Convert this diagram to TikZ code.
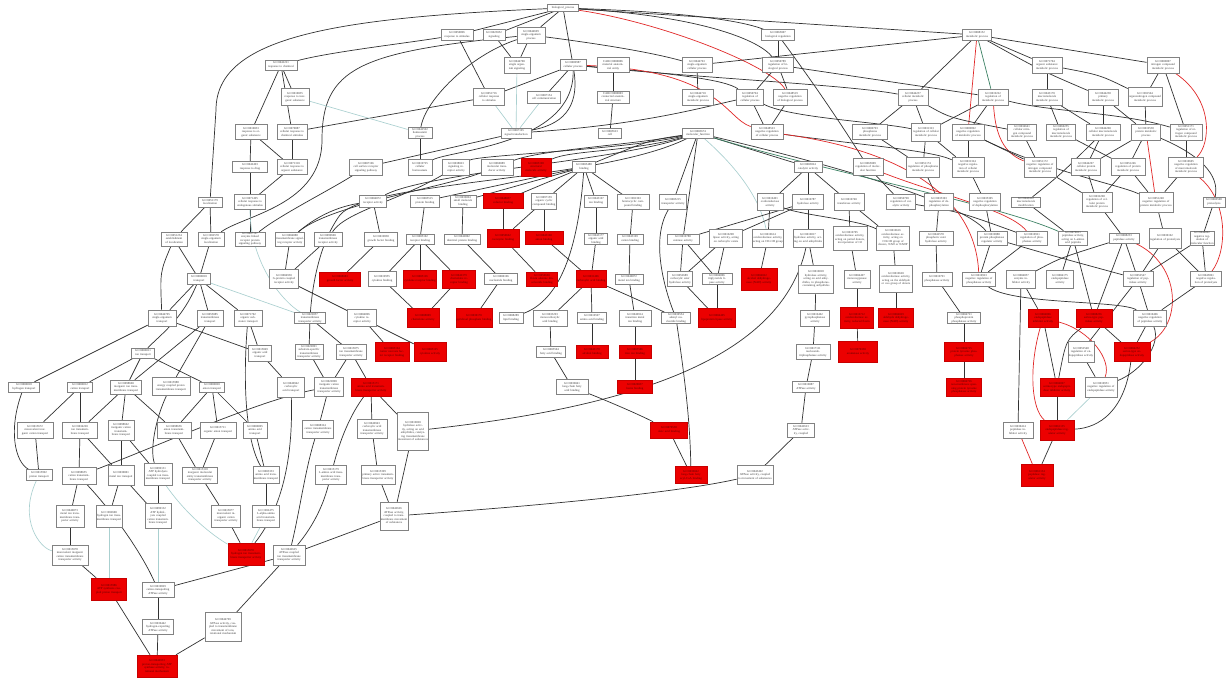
\documentclass[tikz,border=0pt]{standalone}
\usepackage{fontspec}
\setmainfont{Liberation Serif}
\pgfdeclarelayer{bg}
\pgfsetlayers{bg,main}
\tikzset{
 gb/.style={draw={rgb,255:red,130;green,130;blue,130}, fill=white, line width=0.45pt, inner xsep=0.6pt, inner ysep=0.5pt, align=center, font=\fontsize{3}{3.5}\selectfont, text={rgb,255:red,60;green,60;blue,60}},
 rb/.style={gb, fill={rgb,255:red,236;green,0;blue,0}, draw={rgb,255:red,200;green,0;blue,0}, text={rgb,255:red,90;green,0;blue,0}},
 ed/.style={draw={rgb,255:red,50;green,50;blue,50}, line width=0.7pt},
 te/.style={draw={rgb,255:red,170;green,208;blue,208}, line width=0.65pt},
 re/.style={draw={rgb,255:red,225;green,40;blue,40}, line width=0.7pt},
 ge/.style={draw={rgb,255:red,60;green,130;blue,100}, line width=0.7pt},
}
\newcommand{\GNd}[5]{\node[gb,text width=#3pt,minimum height=#4pt] (n#1x#2) at (#1,#2) {#5};}
\newcommand{\RNd}[5]{\node[rb,text width=#3pt,minimum height=#4pt] (n#1x#2) at (#1,#2) {#5};}
\newcommand{\EDg}[3][ed]{\draw[#1] (n#2) -- (n#3);}
\begin{document}
\begin{tikzpicture}[x=1pt,y=-1pt]
\useasboundingbox (0,0) rectangle (1229,679);
% row 8-35
\GNd{563}{8}{30}{7}{biological\_process}
\GNd{457}{35}{31}{11}{GO:0050896\\response to stimulus}
\GNd{494}{35}{21}{11}{GO:0023052\\signaling}
\GNd{531}{35}{27}{16}{GO:0044699\\single-organism process}
\GNd{778}{35}{32}{11}{GO:0065007\\biological regulation}
\GNd{977}{35}{28}{11}{GO:0008152\\metabolic process}
% row 65
\GNd{281}{65}{31}{10}{GO:0042221\\response to chemical}
\GNd{517}{65}{25}{16}{GO:0044700\\single organism signaling}
\GNd{573}{65}{25}{11}{GO:0009987\\cellular process}
\GNd{613}{65}{31}{15}{CARO:0000006\\material anatomical entity}
\GNd{697}{65}{29}{15}{GO:0044763\\single-organism cellular process}
\GNd{778}{65}{30}{15}{GO:0050789\\regulation of biological process}
\GNd{1047}{65}{29}{16}{GO:0071704\\organic substance metabolic process}
\GNd{1163}{65}{31}{16}{GO:0006807\\nitrogen compound metabolic process}
% row 97
\GNd{295}{97}{27}{17}{GO:0010035\\response to inorganic substance}
\GNd{489}{97}{30}{17}{GO:0051716\\cellular response to stimulus}
\GNd{544}{97}{32}{12}{GO:0007154\\cell communication}
\GNd{613}{97}{31}{12}{CARO:0000003\\connected anatomical structure}
\GNd{698}{97}{30}{16}{GO:0044710\\single-organism metabolic process}
\GNd{750}{97}{26}{16}{GO:0050794\\regulation of cellular process}
\GNd{790}{97}{33}{16}{GO:0048519\\negative regulation of biological process}
\GNd{913}{97}{29}{16}{GO:0044237\\cellular metabolic process}
\GNd{993}{97}{29}{16}{GO:0019222\\regulation of metabolic process}
\GNd{1047}{97}{29}{16}{GO:0043170\\macromolecule metabolic process}
\GNd{1103}{97}{29}{16}{GO:0044238\\primary metabolic process}
\GNd{1145}{97}{33}{19}{GO:1901564\\organonitrogen compound metabolic process}
% row 132
\GNd{251}{132}{31}{15}{GO:0010033\\response to organic substance}
\GNd{292}{132}{29}{15}{GO:0070887\\cellular response to chemical stimulus}
\GNd{420}{133}{23}{10}{GO:0042592\\homeostatic process}
\GNd{516}{133}{29}{10}{GO:0007165\\signal transduction}
\GNd{610}{133}{22}{10}{GO:0005623\\cell}
\GNd{698}{133}{30}{10}{GO:0003674\\molecular\_function}
\GNd{767}{132}{31}{15}{GO:0048523\\negative regulation of cellular process}
\GNd{870}{132}{34}{15}{GO:0006793\\phosphorus metabolic process}
\GNd{926}{132}{28}{18}{GO:0031323\\regulation of cellular metabolic process}
\GNd{968}{132}{31}{16}{GO:0009892\\negative regulation of metabolic process}
\GNd{1022}{132}{28}{16}{GO:0034641\\cellular nitrogen compound metabolic process}
\GNd{1061}{132}{28}{16}{GO:0060255\\regulation of macromolecule metabolic process}
\GNd{1103}{132}{33}{16}{GO:0044260\\cellular macromolecule metabolic process}
\GNd{1146}{132}{28}{16}{GO:0019538\\protein metabolic process}
\GNd{1186}{132}{31}{16}{GO:0051171\\regulation of nitrogen compound metabolic process}
% row 167
\GNd{250}{167}{34}{11}{GO:0042493\\response to drug}
\GNd{292}{167}{29}{15}{GO:0071310\\cellular response to organic substance}
\GNd{366}{167}{32}{16}{GO:0007166\\cell surface receptor signaling pathway}
\GNd{420}{167}{23}{16}{GO:0019725\\cellular homeostasis}
\GNd{456}{167}{26}{16}{GO:0038023\\signaling receptor activity}
\GNd{497}{167}{31}{16}{GO:0060089\\molecular transducer activity}
\RNd{536}{167}{29}{18}{GO:0005198\\structural molecule activity}
\GNd{584}{167}{22}{11}{GO:0005488\\binding}
\GNd{808}{167}{27}{11}{GO:0003824\\catalytic activity}
\GNd{868}{167}{29}{17}{GO:0065009\\regulation of molecular function}
\GNd{923}{167}{32}{20}{GO:0051174\\regulation of phosphorus metabolic process}
\GNd{968}{167}{31}{20}{GO:0031324\\negative regulation of cellular metabolic process}
\GNd{1040}{167}{31}{20}{GO:0051172\\negative regulation of nitrogen compound metabolic process}
\GNd{1086}{167}{28}{17}{GO:0044267\\cellular protein metabolic process}
\GNd{1128}{167}{33}{17}{GO:0051246\\regulation of protein metabolic process}
\GNd{1186}{167}{34}{20}{GO:0010605\\negative regulation of macromolecule metabolic process}
% row 202
\GNd{210}{202}{23}{10}{GO:0051179\\localization}
\GNd{250}{202}{30}{15}{GO:0071495\\cellular response to endogenous stimulus}
\GNd{373}{201}{26}{12}{GO:0004872\\receptor activity}
\GNd{425}{201}{28}{12}{GO:0005515\\protein binding}
\GNd{463}{201}{25}{12}{GO:0036094\\small molecule binding}
\RNd{503}{201}{39}{15}{GO:0048037\\cofactor binding}
\GNd{544}{201}{24}{16}{GO:0097159\\organic cyclic compound binding}
\GNd{596}{201}{22}{12}{GO:0043167\\ion binding}
\GNd{633}{202}{31}{15}{GO:1901363\\heterocyclic compound binding}
\GNd{673}{202}{26}{15}{GO:0005215\\transporter activity}
\GNd{770}{202}{25}{17}{GO:0016491\\oxidoreductase activity}
\GNd{808}{202}{30}{15}{GO:0016787\\hydrolase activity}
\GNd{849}{202}{29}{17}{GO:0016740\\transferase activity}
\GNd{901}{202}{28}{15}{GO:0050790\\regulation of catalytic activity}
\GNd{939}{202}{28}{17}{GO:0035303\\regulation of dephosphorylation}
\GNd{985}{202}{30}{17}{GO:0035305\\negative regulation of dephosphorylation}
\GNd{1026}{202}{28}{10}{GO:0043412\\macromolecule modification}
\GNd{1097}{202}{29}{20}{GO:0032268\\regulation of cellular protein metabolic process}
\GNd{1156}{202}{33}{20}{GO:0051248\\negative regulation of protein metabolic process}
\GNd{1214}{202}{21}{10}{GO:0006508\\proteolysis}
% row 239
\GNd{174}{239}{25}{14}{GO:0051234\\establishment of localization}
\GNd{211}{239}{25}{14}{GO:1902578\\single-organism localization}
\GNd{250}{239}{29}{14}{GO:0007167\\enzyme linked receptor protein signaling pathway}
\GNd{290}{239}{28}{14}{GO:0004888\\transmembrane signaling receptor activity}
\GNd{328}{239}{27}{14}{GO:0099600\\transmembrane receptor activity}
\GNd{381}{239}{32}{14}{GO:0019838\\growth factor binding}
\GNd{420}{239}{27}{10}{GO:0005102\\receptor binding}
\GNd{462}{239}{35}{10}{GO:0042802\\identical protein binding}
\RNd{503}{238}{31}{18}{GO:0050662\\coenzyme binding}
\RNd{544}{238}{37}{13}{GO:0043168\\anion binding}
\GNd{596}{239}{22}{10}{GO:0043177\\organic acid binding}
\GNd{630}{239}{25}{10}{GO:0043169\\cation binding}
\GNd{683}{239}{31}{10}{GO:0016788\\esterase activity}
\GNd{726}{238}{32}{18}{GO:0016298\\lipase activity, acting on carboxylic esters}
\GNd{768}{238}{30}{18}{GO:0016614\\oxidoreductase activity, acting on CH-OH group}
\GNd{808}{238}{29}{18}{GO:0016817\\hydrolase activity, acting on acid anhydrides}
\GNd{850}{238}{33}{24}{GO:0016705\\oxidoreductase activity, acting on paired donors, incorporation of O2}
\GNd{893}{238}{32}{24}{GO:0016616\\oxidoreductase activity, acting on CH-OH group of donors, NAD or NADP}
\GNd{936}{238}{33}{14}{GO:0042578\\phosphoric ester hydrolase activity}
\GNd{992}{238}{29}{14}{GO:0019888\\protein phosphatase regulator activity}
\GNd{1032}{238}{30}{14}{GO:0010921\\regulation of phosphatase activity}
\GNd{1073}{238}{28}{14}{GO:0070011\\peptidase activity, acting on L-amino acid peptides}
\GNd{1124}{238}{29}{10}{GO:0008233\\peptidase activity}
\GNd{1165}{238}{31}{20}{GO:0030162\\regulation of proteolysis}
\GNd{1202}{238}{23}{14}{GO:0044092\\negative regulation of molecular function}
% row 279
\GNd{199}{279}{22}{11}{GO:0006810\\transport}
\GNd{284}{279}{28}{19}{GO:0004930\\G-protein coupled receptor activity}
\RNd{340}{279}{40}{14}{GO:0008083\\growth factor activity}
\GNd{382}{279}{27}{15}{GO:0019955\\cytokine binding}
\RNd{420}{279}{32}{18}{GO:0005126\\cytokine receptor binding}
\RNd{459}{279}{32}{18}{GO:0042379\\chemokine receptor binding}
\GNd{501}{279}{32}{11}{GO:0000166\\nucleotide binding}
\RNd{542}{279}{30}{14}{GO:0050660\\flavin adenine dinucleotide binding}
\RNd{591}{279}{29}{17}{GO:0031406\\carboxylic acid binding}
\GNd{629}{279}{27}{10}{GO:0046872\\metal ion binding}
\GNd{680}{279}{24}{15}{GO:0052689\\carboxylic ester hydrolase activity}
\GNd{717}{279}{29}{11}{GO:0004806\\triglyceride lipase activity}
\RNd{759}{279}{35}{22}{GO:0004022\\alcohol dehydrogenase (NAD) activity}
\GNd{816}{279}{34}{28}{GO:0016818\\hydrolase activity, acting on acid anhydrides, in phosphorus-containing anhydrides}
\GNd{857}{279}{25}{18}{GO:0004497\\monooxygenase activity}
\GNd{896}{279}{32}{27}{GO:0016620\\oxidoreductase activity, acting on the aldehyde or oxo group of donors}
\GNd{937}{279}{29}{14}{GO:0016791\\phosphatase activity}
\GNd{979}{279}{32}{14}{GO:0010923\\negative regulation of phosphatase activity}
\GNd{1021}{279}{28}{18}{GO:0004857\\enzyme inhibitor activity}
\GNd{1060}{279}{26}{18}{GO:0004175\\endopeptidase activity}
\GNd{1138}{279}{29}{15}{GO:0052547\\regulation of peptidase activity}
\GNd{1206}{279}{30}{15}{GO:0045861\\negative regulation of proteolysis}
% row 318
\GNd{162}{318}{27}{16}{GO:0044765\\single-organism transport}
\GNd{210}{318}{25}{16}{GO:0055085\\transmembrane transport}
\GNd{248}{318}{27}{16}{GO:0071702\\organic substance transport}
\GNd{310}{318}{30}{10}{GO:0022857\\transmembrane transporter activity}
\GNd{362}{318}{28}{17}{GO:0004896\\cytokine receptor activity}
\RNd{423}{318}{31}{19}{GO:0008009\\chemokine activity}
\RNd{474}{318}{35}{19}{GO:0030170\\pyridoxal phosphate binding}
\GNd{511}{318}{23}{11}{GO:0008289\\lipid binding}
\GNd{550}{318}{33}{16}{GO:0033293\\monocarboxylic acid binding}
\GNd{592}{318}{28}{11}{GO:0016597\\amino acid binding}
\GNd{635}{318}{31}{16}{GO:0046914\\transition metal ion binding}
\GNd{676}{318}{28}{11}{GO:0030554\\adenyl nucleotide binding}
\RNd{717}{318}{36}{19}{GO:0004465\\lipoprotein lipase activity}
\GNd{815}{318}{28}{16}{GO:0016462\\pyrophosphatase activity}
\RNd{857}{318}{32}{21}{GO:0016712\\oxidoreductase activity, reduced flavin}
\RNd{896}{318}{34}{19}{GO:0004029\\aldehyde dehydrogenase (NAD) activity}
\GNd{964}{318}{32}{11}{GO:0004721\\phosphoprotein phosphatase activity}
\RNd{1043}{318}{29}{18}{GO:0004866\\endopeptidase inhibitor activity}
\RNd{1094}{318}{35}{18}{GO:0008236\\serine-type peptidase activity}
\GNd{1150}{318}{32}{16}{GO:0010466\\negative regulation of peptidase activity}
% row 352
\GNd{143}{353}{22}{10}{GO:0006811\\ion transport}
\GNd{260}{353}{22}{16}{GO:0015849\\organic acid transport}
\GNd{309}{352}{27}{15}{GO:0022891\\substrate-specific transmembrane transporter activity}
\GNd{351}{352}{29}{15}{GO:0015075\\ion transmembrane transporter activity}
\RNd{392}{352}{33}{19}{GO:0005164\\tumor necrosis factor receptor binding}
\RNd{430}{352}{31}{19}{GO:0005125\\cytokine activity}
\GNd{551}{352}{28}{11}{GO:0005504\\fatty acid binding}
\RNd{592}{352}{31}{13}{GO:0043178\\alcohol binding}
\RNd{635}{352}{31}{13}{GO:0005506\\iron ion binding}
\GNd{813}{352}{33}{15}{GO:0017111\\nucleoside-triphosphatase activity}
\RNd{858}{352}{38}{21}{GO:0070330\\aromatase activity}
\RNd{964}{352}{38}{19}{GO:0004725\\protein tyrosine phosphatase activity}
\GNd{1081}{352}{25}{21}{GO:0052548\\regulation of endopeptidase activity}
\RNd{1132}{352}{35}{19}{GO:0004252\\serine-type endopeptidase activity}
% row 387
\GNd{24}{387}{30}{10}{GO:0006818\\hydrogen transport}
\GNd{80}{387}{24}{10}{GO:0006812\\cation transport}
\GNd{126}{387}{30}{14}{GO:0098660\\inorganic ion transmembrane transport}
\GNd{171}{386}{37}{18}{GO:0015988\\energy coupled proton transmembrane transport}
\GNd{212}{387}{24}{10}{GO:0006820\\anion transport}
\GNd{291}{387}{26}{20}{GO:0046942\\carboxylic acid transport}
\GNd{329}{387}{28}{19}{GO:0022890\\inorganic cation transmembrane transporter activity}
\RNd{371}{387}{39}{18}{GO:0015171\\amino acid transmembrane transporter activity}
\GNd{572}{387}{31}{15}{GO:0036041\\long-chain fatty acid binding}
\RNd{635}{387}{34}{13}{GO:0020037\\heme binding}
\GNd{806}{387}{26}{11}{GO:0016887\\ATPase activity}
\RNd{964}{387}{34}{18}{GO:0004726\\non-membrane spanning protein tyrosine phosphatase activity}
\RNd{1057}{387}{33}{18}{GO:0004867\\serine-type endopeptidase inhibitor activity}
\GNd{1101}{387}{31}{20}{GO:0010951\\negative regulation of endopeptidase activity}
% row 430
\GNd{35}{430}{35}{16}{GO:0015672\\monovalent inorganic cation transport}
\GNd{80}{430}{34}{16}{GO:0034220\\ion transmembrane transport}
\GNd{121}{430}{25}{20}{GO:0098662\\inorganic cation transmembrane transport}
\GNd{174}{430}{33}{16}{GO:0098656\\anion transmembrane transport}
\GNd{218}{430}{35}{16}{GO:0015711\\organic anion transport}
\GNd{255}{430}{23}{16}{GO:0006865\\amino acid transport}
\GNd{318}{429}{30}{18}{GO:0008324\\cation transmembrane transporter activity}
\GNd{372}{429}{29}{19}{GO:0046943\\carboxylic acid transmembrane transporter activity}
\GNd{413}{431}{30}{38}{GO:0016820\\hydrolase activity, acting on acid anhydrides, catalyzing transmembrane movement of substances}
\RNd{669}{430}{36}{16}{GO:0070538\\oleic acid binding}
\GNd{801}{430}{26}{14}{GO:0042623\\ATPase activity, coupled}
\GNd{1018}{430}{29}{16}{GO:0030414\\peptidase inhibitor activity}
\RNd{1057}{430}{33}{20}{GO:0061135\\endopeptidase regulator activity}
% row 475
\GNd{39}{475}{25}{11}{GO:0015992\\proton transport}
\GNd{79}{476}{33}{17}{GO:0098655\\cation transmembrane transport}
\GNd{121}{475}{25}{20}{GO:0030001\\metal ion transport}
\GNd{158}{474}{27}{22}{GO:0099131\\ATP hydrolysis coupled ion transmembrane transport}
\GNd{200}{475}{34}{16}{GO:0015318\\inorganic molecular entity transmembrane transporter activity}
\GNd{266}{475}{25}{17}{GO:0003333\\amino acid transmembrane transport}
\GNd{331}{475}{30}{19}{GO:0015179\\L-amino acid transmembrane transporter activity}
\GNd{378}{475}{33}{19}{GO:0015399\\primary active transmembrane transporter activity}
\RNd{691}{475}{31}{17}{GO:0036042\\long-chain fatty acyl-CoA binding}
\GNd{755}{475}{35}{19}{GO:0043492\\ATPase activity, coupled to movement of substances}
\RNd{1037}{475}{31}{22}{GO:0061134\\peptidase regulator activity}
% rows 516-666
\GNd{70}{516}{27}{22}{GO:0046873\\metal ion transmembrane transporter activity}
\GNd{109}{516}{25}{22}{GO:1902600\\hydrogen ion transmembrane transport}
\GNd{158}{516}{25}{25}{GO:0099132\\ATP hydrolysis coupled cation transmembrane transport}
\GNd{226}{516}{28}{22}{GO:0015077\\monovalent inorganic cation transporter activity}
\GNd{266}{516}{26}{22}{GO:1902475\\L-alpha-amino acid transmembrane transport}
\GNd{394}{516}{27}{28}{GO:0042626\\ATPase activity, coupled to transmembrane movement of substances}
\GNd{70}{555}{35}{20}{GO:0015078\\monovalent inorganic cation transmembrane transporter activity}
\RNd{246}{554}{35}{22}{GO:0015078\\hydrogen ion transmembrane transporter activity}
\GNd{289}{555}{31}{20}{GO:0042625\\ATPase coupled ion transmembrane transporter activity}
\RNd{109}{589}{34}{22}{GO:0015986\\ATP synthesis coupled proton transport}
\GNd{158}{590}{31}{15}{GO:0019829\\cation-transporting ATPase activity}
\GNd{158}{627}{30}{15}{GO:0036442\\hydrogen-exporting ATPase activity}
\GNd{223}{627}{35}{29}{GO:0044769\\ATPase activity, coupled to transmembrane movement of ions, rotational mechanism}
\RNd{157}{666}{39}{22}{GO:0046933\\proton-transporting ATP synthase activity, rotational mechanism}

\begin{pgfonlayer}{bg}
\fill[white] (0,0) rectangle (1229,679);
% top
\EDg{563x8}{457x35}
\EDg{563x8}{494x35}
\EDg{563x8}{531x35}
\EDg{563x8}{573x65}
\draw[ed] (n563x8) .. controls (680,12) and (740,20) .. (n778x35);
\EDg{563x8}{977x35}
\draw[ed] (n563x8) .. controls (330,18) and (216,38) .. (216,110) -- (n210x202);
\draw[re] (n563x8) .. controls (660,22) and (770,65) .. (n790x97);
\draw[ed] (n563x8) .. controls (700,16) and (760,40) .. (n778x65);
\draw[ed] (n457x35) .. controls (400,44) and (330,52) .. (n281x65);
\EDg{457x35}{489x97}
\EDg{494x35}{517x65}
\EDg{531x35}{517x65}
\draw[ed] (n531x35) .. controls (600,44) and (650,52) .. (n697x65);
\draw[ed] (n531x35) .. controls (360,52) and (322,68) .. (322,140) .. controls (322,205) and (245,215) .. (n211x239);
\draw[ed] (n531x35) .. controls (470,55) and (425,100) .. (n420x133);
\EDg{573x65}{489x97}
\EDg{573x65}{544x97}
\draw[ed] (n573x65) .. controls (580,110) and (560,125) .. (n516x133);
\draw[ed] (n573x65) .. controls (575,145) and (450,150) .. (n420x167);
\draw[ed] (n573x65) .. controls (680,74) and (725,80) .. (n750x97);
\draw[ed] (n573x65) .. controls (700,78) and (850,85) .. (n913x97);
\draw[re] (n573x65) .. controls (720,70) and (725,118) .. (n767x132);
\EDg{613x65}{613x97}
\EDg{613x97}{610x133}
\EDg{697x65}{698x97}
\EDg{697x65}{977x35}
\EDg{778x35}{778x65}
\draw[ed] (n778x35) .. controls (815,85) and (845,130) .. (n868x167);
\EDg{778x65}{750x97}
\EDg{778x65}{790x97}
\EDg{778x65}{993x97}
\EDg{750x97}{767x132}
\EDg{790x97}{767x132}
\draw[ed] (n516x133) .. controls (640,125) and (700,108) .. (n750x97);
\draw[ed] (n750x97) .. controls (790,118) and (880,122) .. (n926x132);
\draw[ed] (n767x132) .. controls (860,145) and (930,150) .. (n968x167);
\EDg{489x97}{292x132}
\EDg[te]{489x97}{516x133}
\EDg[te]{544x97}{516x133}
\EDg[te]{517x65}{516x133}
\EDg{281x65}{295x97}
\EDg{281x65}{251x132}
\EDg{281x65}{292x132}
\EDg{251x132}{250x167}
\EDg{251x132}{292x167}
\EDg{292x132}{292x167}
\EDg{250x167}{250x202}
\EDg{292x167}{250x202}
\EDg[te]{295x97}{420x133}
\EDg{420x133}{420x167}
\EDg{516x133}{366x167}
\draw[ed] (n366x167) .. controls (330,190) and (280,215) .. (n250x239);
\draw[ed] (n373x201) .. controls (330,208) and (310,222) .. (n290x239);
\EDg{210x202}{174x239}
\EDg{210x202}{211x239}
\EDg{250x202}{250x239}
% metabolic
\EDg{977x35}{1047x65}
\EDg{977x35}{1163x65}
\EDg{977x35}{913x97}
\EDg[re]{977x35}{968x132}
\EDg[ge]{977x35}{993x97}
\draw[ed] (n977x35) .. controls (1040,70) .. (n1103x97);
\EDg{1047x65}{1047x97}
\draw[ed] (n1047x65) .. controls (1100,75) .. (n1145x97);
\EDg{1163x65}{1145x97}
\EDg{1163x65}{1186x132}
\draw[re] (n1163x65) .. controls (1215,100) and (1210,145) .. (n1186x167);
\EDg{913x97}{926x132}
\EDg{993x97}{926x132}
\EDg{993x97}{968x132}
\draw[ed] (n913x97) .. controls (950,118) .. (n1022x132);
\draw[ed] (n993x97) .. controls (1050,112) and (1120,112) .. (n1186x132);
\draw[re] (n993x97) .. controls (995,128) and (1000,152) .. (n1040x167);
\EDg{1047x97}{1061x132}
\EDg{1047x97}{1103x132}
\EDg{1103x97}{1103x132}
\EDg{1103x97}{1146x132}
\EDg{1145x97}{1146x132}
\EDg[re]{1146x132}{1156x202}
\EDg{1186x132}{1186x167}
\draw[ed] (n1146x132) .. controls (1200,155) and (1220,175) .. (n1214x202);
\EDg{926x132}{968x167}
\EDg{968x132}{968x167}
\EDg{968x132}{1040x167}
\draw[ed] (n968x132) .. controls (1050,172) and (1120,185) .. (n1156x202);
\EDg{1022x132}{1040x167}
\EDg{1061x132}{1128x167}
\EDg{1103x132}{1086x167}
\EDg{1146x132}{1086x167}
\EDg{1146x132}{1128x167}
\EDg{1086x167}{1097x202}
\EDg{1128x167}{1097x202}
\EDg{1128x167}{1156x202}
\EDg{1186x167}{1156x202}
\EDg{923x167}{939x202}
\EDg{968x167}{985x202}
\EDg{1040x167}{1097x202}
\draw[ed] (n1103x132) .. controls (1060,175) .. (n1026x202);
\EDg{870x132}{923x167}
\EDg{926x132}{923x167}
\EDg{913x97}{870x132}
% molecular function
\EDg{698x133}{808x167}
\draw[ed] (n698x133) .. controls (650,140) .. (n584x167);
\draw[ed] (n698x133) .. controls (620,146) and (540,150) .. (n497x167);
\draw[ed] (n698x133) .. controls (630,152) and (570,150) .. (n536x167);
\draw[ed] (n698x133) .. controls (610,162) and (430,172) .. (n373x201);
\draw[ed] (n698x133) .. controls (620,150) and (480,155) .. (n456x167);
\EDg{698x133}{673x202}
\EDg{698x133}{683x239}
\draw[te] (n698x133) .. controls (740,170) and (760,200) .. (n768x238);
\draw[ed] (n698x133) .. controls (820,162) and (960,200) .. (n992x238);
\draw[ge] (n698x133) .. controls (820,170) and (1000,205) .. (n1073x238);
\draw[ed] (n698x133) .. controls (600,182) and (370,180) .. (340,215) .. controls (318,245) and (312,290) .. (n310x318);
\EDg{584x167}{425x201}
\EDg{584x167}{463x201}
\EDg{584x167}{503x201}
\EDg{584x167}{544x201}
\EDg{584x167}{596x201}
\EDg{584x167}{633x202}
\draw[ed] (n584x167) .. controls (578,250) and (560,300) .. (n511x318);
\EDg{808x167}{770x202}
\EDg{808x167}{808x202}
\EDg{808x167}{849x202}
\EDg{868x167}{901x202}
\EDg{425x201}{420x239}
\EDg{463x201}{462x239}
\EDg{503x201}{503x238}
\EDg{544x201}{503x238}
\EDg{544x201}{544x238}
\EDg{596x201}{596x239}
\EDg{633x202}{630x239}
\EDg{373x201}{381x239}
\draw[ed] (n456x167) .. controls (400,200) and (345,212) .. (n328x239);
\draw[ed] (n497x167) .. controls (440,188) and (330,205) .. (n290x239);
\EDg{328x239}{284x279}
\EDg{290x239}{284x279}
\EDg{381x239}{340x279}
\EDg{420x239}{382x279}
\EDg{420x239}{420x279}
\EDg{420x239}{459x279}
\EDg{382x279}{423x318}
\EDg{459x279}{423x318}
\EDg{462x239}{501x279}
\EDg{501x279}{474x318}
\EDg{503x238}{542x279}
\EDg{544x238}{591x279}
\EDg{596x239}{591x279}
\EDg{591x279}{550x318}
\EDg{591x279}{592x318}
\draw[ed] (n591x279) .. controls (620,292) and (650,305) .. (n676x318);
\EDg{550x318}{551x352}
\EDg{551x352}{572x387}
\EDg{592x318}{592x352}
\draw[ed] (n572x387) .. controls (610,402) and (640,415) .. (n669x430);
\EDg{630x239}{629x279}
\EDg{629x279}{635x318}
\EDg{635x318}{635x352}
\EDg{635x352}{635x387}
\EDg{683x239}{680x279}
\EDg{683x239}{717x279}
\EDg{726x238}{680x279}
\EDg{726x238}{717x279}
\EDg{680x279}{717x318}
\EDg{717x279}{717x318}
\EDg{768x238}{759x279}
\EDg{808x238}{816x279}
\EDg{816x279}{815x318}
\EDg{815x318}{813x352}
\EDg{813x352}{806x387}
\EDg{806x387}{801x430}
\EDg{801x430}{755x475}
\EDg{850x238}{857x279}
\EDg{857x279}{857x318}
\EDg{857x318}{858x352}
\EDg{893x238}{896x279}
\EDg{896x279}{896x318}
\draw[ed] (n676x318) .. controls (685,380) and (690,420) .. (n691x475);
\EDg{669x430}{691x475}
\draw[ed] (n413x431) .. controls (600,410) and (780,370) .. (n808x238);
\draw[ed] (n673x202) .. controls (650,240) and (665,290) .. (n676x318);
\EDg{808x202}{726x238}
\EDg{770x202}{768x238}
\EDg{808x202}{808x238}
\EDg{808x202}{683x239}
\EDg{849x202}{850x238}
\EDg{849x202}{893x238}
\draw[ed] (n770x202) .. controls (800,215) and (860,220) .. (n893x238);
\draw[ed] (n901x202) .. controls (960,212) .. (n1032x238);
\EDg{939x202}{936x238}
\EDg{985x202}{992x238}
\EDg{1026x202}{1073x238}
\EDg{1097x202}{1124x238}
\EDg{1156x202}{1165x238}
\EDg{1214x202}{1202x238}
\EDg{936x238}{937x279}
\EDg{937x279}{964x318}
\EDg{964x318}{964x352}
\EDg{964x352}{964x387}
\EDg{992x238}{979x279}
\EDg{1032x238}{979x279}
\draw[re] (n767x132) .. controls (900,150) and (975,195) .. (n979x279);
\draw[re] (n868x167) .. controls (940,195) and (1010,210) .. (n1032x238);
\EDg{1073x238}{1060x279}
\EDg{1073x238}{1094x318}
\draw[ed] (n1124x238) .. controls (1060,258) .. (n1021x279);
\EDg{1124x238}{1094x318}
\EDg{1124x238}{1138x279}
\draw[re] (n1124x238) .. controls (1182,265) and (1182,325) .. (n1132x352);
\EDg{1165x238}{1138x279}
\EDg{1165x238}{1206x279}
\EDg{1202x238}{1206x279}
\EDg{1202x238}{1138x279}
\draw[re] (n1186x167) .. controls (1228,200) and (1228,250) .. (n1206x279);
\EDg{1206x279}{1150x318}
\EDg{1138x279}{1150x318}
\EDg{1138x279}{1081x352}
\EDg{1150x318}{1132x352}
\draw[ed] (n1150x318) .. controls (1162,345) and (1140,372) .. (n1101x387);
\EDg{1094x318}{1132x352}
\EDg{1043x318}{1057x387}
\draw[re] (n1043x318) .. controls (1028,370) and (1032,410) .. (n1057x430);
\draw[re] (n1043x318) .. controls (1090,330) and (1112,360) .. (n1101x387);
\draw[ed] (n1094x318) .. controls (1066,340) .. (n1057x387);
\EDg{1081x352}{1101x387}
\draw[ed] (n1132x352) .. controls (1125,410) and (1100,428) .. (n1057x430);
\EDg{1057x387}{1057x430}
\EDg{1021x279}{1018x430}
\EDg{1021x279}{1043x318}
\EDg[re]{1018x430}{1037x475}
\EDg{1057x430}{1037x475}
\draw[ed] (n979x279) .. controls (1010,305) and (1120,300) .. (n1150x318);
\draw[ed] (n992x238) .. controls (1050,255) .. (n1138x279);
\EDg[te]{1101x387}{1057x430}
% left
\EDg{174x239}{199x279}
\EDg{211x239}{199x279}
\draw[ed] (n174x239) .. controls (160,272) .. (n162x318);
\EDg{199x279}{162x318}
\EDg{199x279}{210x318}
\EDg{199x279}{248x318}
\draw[ed] (n199x279) .. controls (182,320) and (160,335) .. (n143x353);
\EDg[te]{199x279}{310x318}
\EDg{162x318}{24x387}
\EDg{162x318}{260x353}
\EDg{210x318}{126x387}
\EDg{210x318}{171x386}
\EDg{248x318}{260x353}
\draw[ed] (n248x318) .. controls (243,380) and (245,440) .. (n266x475);
\EDg{260x353}{291x387}
\draw[ed] (n291x387) .. controls (293,450) and (285,505) .. (n246x554);
\EDg{143x353}{80x387}
\EDg{143x353}{126x387}
\EDg{143x353}{212x387}
\EDg{80x387}{35x430}
\EDg{80x387}{80x430}
\EDg{126x387}{80x430}
\EDg{126x387}{121x430}
\EDg{126x387}{174x430}
\EDg{212x387}{174x430}
\EDg{212x387}{255x430}
\EDg{212x387}{218x430}
\draw[ed] (n171x386) .. controls (155,420) and (150,450) .. (n158x474);
\draw[ed] (n24x387) .. controls (8,430) and (15,462) .. (n39x475);
\EDg{35x430}{39x475}
\EDg{80x430}{121x475}
\EDg{121x430}{121x475}
\EDg{121x430}{158x474}
\EDg{174x430}{200x475}
\EDg{218x430}{200x475}
\EDg{255x430}{266x475}
\draw[ed] (n79x476) .. controls (160,445) and (260,400) .. (n329x387);
\EDg{80x430}{79x476}
\EDg{79x476}{70x516}
\EDg{121x475}{109x516}
\EDg{121x475}{158x516}
\draw[ed] (n79x476) .. controls (120,520) and (145,560) .. (n158x590);
\EDg{158x474}{158x516}
\EDg[te]{158x516}{158x590}
\EDg[te]{109x516}{109x589}
\EDg{70x516}{70x555}
\EDg{70x555}{109x589}
\draw[te] (n39x475) .. controls (18,520) and (40,548) .. (n70x555);
\EDg{109x589}{157x666}
\EDg{158x590}{158x627}
\EDg{158x627}{157x666}
\EDg{223x627}{157x666}
\EDg{289x555}{223x627}
\EDg{289x555}{158x590}
\EDg{200x475}{226x516}
\EDg{266x475}{266x516}
\EDg{226x516}{246x554}
\EDg[te]{266x516}{246x554}
\draw[te] (n158x474) .. controls (190,520) and (220,540) .. (n246x554);
\EDg{284x279}{362x318}
\EDg{310x318}{309x352}
\EDg{310x318}{351x352}
\EDg{309x352}{329x387}
\EDg{351x352}{329x387}
\EDg{351x352}{371x387}
\EDg{362x318}{392x352}
\EDg{362x318}{430x352}
\EDg{329x387}{318x429}
\EDg{371x387}{372x429}
\EDg{371x387}{413x431}
\draw[ed] (n371x387) .. controls (350,415) and (340,440) .. (n331x475);
\draw[ed] (n318x429) .. controls (305,470) and (300,510) .. (n289x555);
\EDg{372x429}{378x475}
\EDg{413x431}{394x516}
\EDg{378x475}{394x516}
\draw[ed] (n331x475) .. controls (322,510) and (310,530) .. (n289x555);
\EDg{394x516}{289x555}
\draw[ed] (n394x516) .. controls (550,505) and (680,492) .. (n755x475);
\draw[te] (n250x202) .. controls (250,260) and (280,300) .. (n310x318);
\end{pgfonlayer}
\end{tikzpicture}
\end{document}
